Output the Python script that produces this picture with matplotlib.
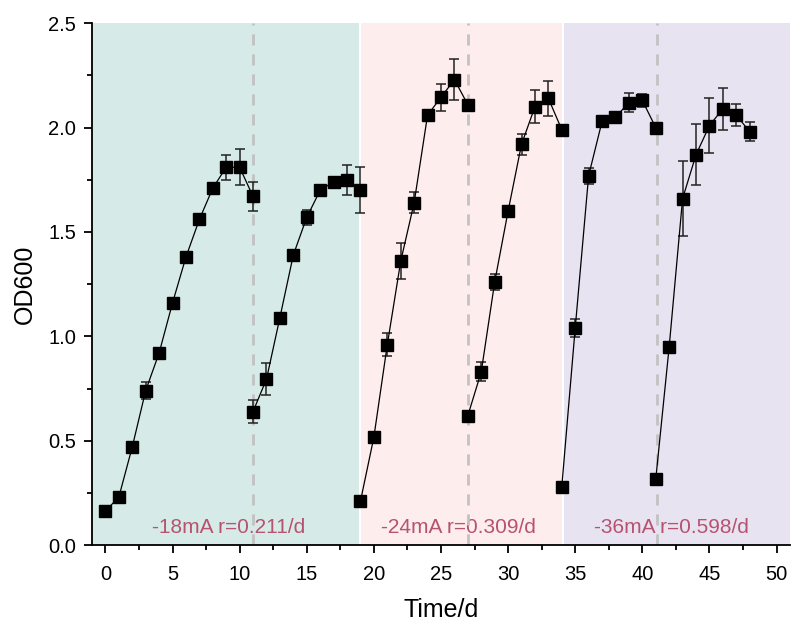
import numpy as np
import matplotlib.pyplot as plt
from matplotlib.ticker import MultipleLocator

plt.rcParams['font.family'] = ['Liberation Sans', 'DejaVu Sans']

# six growth batches (day, OD600, sd)
dias1 = [0, 1, 2, 3, 4, 5, 6, 7, 8, 9, 10, 11]
od1 = [0.163, 0.23, 0.47, 0.74, 0.92, 1.16, 1.38, 1.56, 1.71, 1.81, 1.81, 1.67]
err1 = [0.0, 0.0, 0.0, 0.04, 0.0, 0.0, 0.0, 0.0, 0.0, 0.06, 0.087, 0.07]

dias2 = [11, 12, 13, 14, 15, 16, 17, 18, 19]
od2 = [0.64, 0.795, 1.09, 1.39, 1.57, 1.70, 1.74, 1.75, 1.70]
err2 = [0.055, 0.075, 0.0, 0.0, 0.035, 0.02, 0.025, 0.073, 0.11]

dias3 = [19, 20, 21, 22, 23, 24, 25, 26, 27]
od3 = [0.21, 0.517, 0.96, 1.36, 1.64, 2.06, 2.145, 2.23, 2.11]
err3 = [0.0, 0.0, 0.056, 0.085, 0.05, 0.0, 0.064, 0.10, 0.0]

dias4 = [27, 28, 29, 30, 31, 32, 33, 34]
od4 = [0.62, 0.83, 1.26, 1.60, 1.92, 2.10, 2.14, 1.99]
err4 = [0.0, 0.046, 0.038, 0.0, 0.05, 0.078, 0.085, 0.0]

dias5 = [34, 35, 36, 37, 38, 39, 40, 41]
od5 = [0.28, 1.04, 1.77, 2.03, 2.05, 2.12, 2.13, 2.00]
err5 = [0.0, 0.045, 0.038, 0.0, 0.0, 0.046, 0.03, 0.0]

dias6 = [41, 42, 43, 44, 45, 46, 47, 48]
od6 = [0.316, 0.95, 1.66, 1.87, 2.01, 2.09, 2.06, 1.98]
err6 = [0.02, 0.0, 0.18, 0.147, 0.13, 0.10, 0.054, 0.045]

# current regimes: (start, end, colour, label, label x)
tramos = [(-1, 19, '#d6eae8', '-18mA r=0.211/d', 9.2),
          (19, 34.1, '#fdeded', '-24mA r=0.309/d', 26.3),
          (34.1, 51, '#e8e3f1', '-36mA r=0.598/d', 42.2)]
cortes = [11, 27, 41.1]

fig = plt.figure(figsize=(7.95, 6.28), dpi=100)
ax = fig.add_axes([0.1157, 0.132, 0.878, 0.831])

for x0, x1, color, texto, xt in tramos:
    ax.axvspan(x0, x1, color=color, lw=0, zorder=0)
    ax.text(xt, 0.085, texto, color='#b65370', fontsize=15,
            ha='center', va='center', zorder=1)
for x0, x1, *_ in tramos[1:]:
    ax.axvline(x0, color='white', lw=1.5, zorder=0.5)

for c in cortes:
    ax.axvline(c, color='#c2c2c2', lw=2, ls=(0, (4, 3.2)), zorder=1)

lotes = [(dias1, od1, err1), (dias2, od2, err2), (dias3, od3, err3),
         (dias4, od4, err4), (dias5, od5, err5), (dias6, od6, err6)]
for d, od, e in lotes:
    ax.errorbar(d, od, yerr=e, fmt='s-', color='black', ms=9, lw=0.9,
                ecolor='#222222', elinewidth=1.1, capsize=3.8, capthick=1.1,
                zorder=3)

ax.set_xlim(-1, 51)
ax.set_ylim(0, 2.5)
ax.xaxis.set_major_locator(MultipleLocator(5))
ax.xaxis.set_minor_locator(MultipleLocator(2.5))
ax.yaxis.set_major_locator(MultipleLocator(0.5))
ax.yaxis.set_minor_locator(MultipleLocator(0.25))
ax.yaxis.set_major_formatter(plt.FormatStrFormatter('%.1f'))
ax.tick_params(which='major', direction='out', length=5.5, width=1.3,
               labelsize=14.5, pad=6)
ax.tick_params(axis='x', which='major', pad=9)
ax.tick_params(which='minor', direction='out', length=3.5, width=1.3)
for s in ['top', 'right']:
    ax.spines[s].set_visible(False)
for s in ['left', 'bottom']:
    ax.spines[s].set_linewidth(1.3)

ax.set_xlabel('Time/d', fontsize=18, labelpad=10)
ax.set_ylabel('OD600', fontsize=18, labelpad=8)

fig.savefig('out.png', dpi=100)
